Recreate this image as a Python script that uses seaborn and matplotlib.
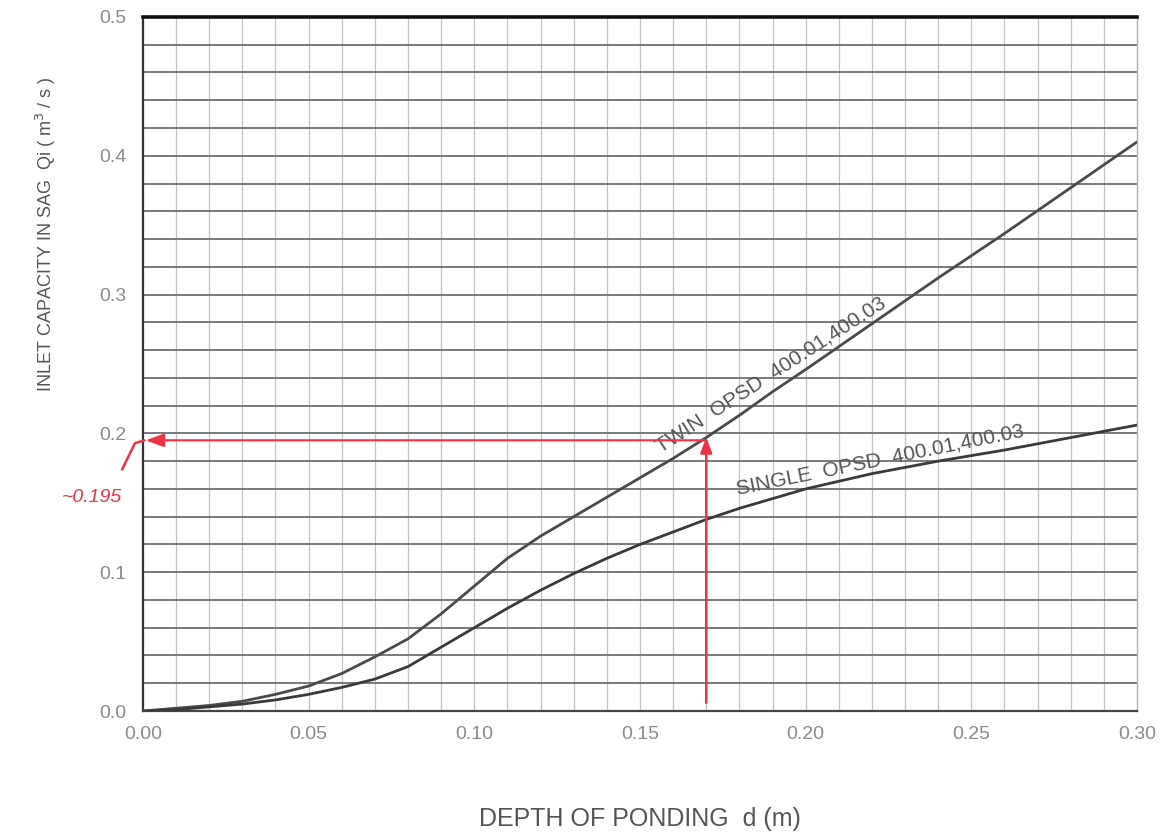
import matplotlib
matplotlib.use("Agg")
import matplotlib.pyplot as plt
import numpy as np
import pandas as pd
import seaborn as sns

# depth of ponding d (m)
depth = [0.00, 0.01, 0.02, 0.03, 0.04, 0.05, 0.06, 0.07, 0.08, 0.09, 0.10,
         0.11, 0.12, 0.13, 0.14, 0.15, 0.16, 0.17, 0.18, 0.19, 0.20,
         0.22, 0.24, 0.26, 0.28, 0.30]
# inlet capacity Qi (m3/s)
twin = [0.000, 0.002, 0.004, 0.007, 0.012, 0.018, 0.027, 0.039, 0.052, 0.070, 0.090,
        0.110, 0.126, 0.140, 0.154, 0.168, 0.182, 0.197, 0.213, 0.230, 0.246,
        0.279, 0.312, 0.344, 0.377, 0.410]
single = [0.000, 0.001, 0.003, 0.005, 0.008, 0.012, 0.017, 0.023, 0.032, 0.046, 0.060,
          0.074, 0.087, 0.099, 0.110, 0.120, 0.129, 0.138, 0.146, 0.153, 0.160,
          0.171, 0.180, 0.188, 0.197, 0.206]

x_ticks = [0.00, 0.05, 0.10, 0.15, 0.20, 0.25, 0.30]
y_ticks = [0.0, 0.1, 0.2, 0.3, 0.4, 0.5]
read_d = 0.17
read_q = 0.195

df = pd.DataFrame({
    "d": depth * 2,
    "q": twin + single,
    "curve": ["twin"] * len(depth) + ["single"] * len(depth),
})

sns.set_style("white")
plt.rcParams["font.family"] = ["Liberation Sans", "DejaVu Sans"]

fig = plt.figure(figsize=(11.62, 8.36), dpi=100)
ax = fig.add_axes([0.123, 0.1495, 0.8555, 0.8302])

# graph paper grid
for xv in np.arange(0.01, 0.30, 0.01):
    ax.axvline(xv, color="#c4c4c4", lw=0.9, zorder=0)
for yv in np.arange(0.02, 0.50, 0.02):
    ax.axhline(yv, color="#707070", lw=1.3, zorder=0)

sns.lineplot(data=df, x="d", y="q", hue="curve", palette={"twin": "#4a4a4a", "single": "#3a3a3a"},
             linewidth=2.0, legend=False, ax=ax, zorder=3)

ax.set_xlim(0, 0.30)
ax.set_ylim(0, 0.5)
ax.set_xticks(x_ticks)
ax.set_xticklabels([f"{v:.2f}" for v in x_ticks])
ax.set_yticks(y_ticks)
ax.set_yticklabels([f"{v:.1f}" for v in y_ticks])
ax.tick_params(axis="y", direction="inout", length=14, width=3, color="#222222",
               labelsize=14, labelcolor="#8a8a8a", pad=5)
ax.tick_params(axis="x", direction="inout", length=10, width=3, color="#222222",
               labelsize=14, labelcolor="#8a8a8a", pad=6)

ax.spines["left"].set_color("#333333")
ax.spines["left"].set_linewidth(1.6)
ax.spines["bottom"].set_color("#444444")
ax.spines["bottom"].set_linewidth(1.6)
ax.spines["top"].set_color("#111111")
ax.spines["top"].set_linewidth(2.6)
ax.spines["right"].set_color("#b0b0b0")
ax.spines["right"].set_linewidth(1.0)

ax.set_xlabel("DEPTH OF PONDING  d (m)", fontsize=18, color="#555555", labelpad=46)
ax.set_ylabel("INLET CAPACITY IN SAG  Qi ( m$^{3}$ / s )", fontsize=13, color="#555555")
ax.yaxis.set_label_coords(-0.085, 0.687)

ax.text(0.1895, 0.242, "TWIN  OPSD  400.01,400.03", rotation=33, fontsize=15, color="#555555",
        ha="center", va="center", zorder=4)
ax.text(0.2225, 0.181, "SINGLE  OPSD  400.01,400.03", rotation=11.5, fontsize=15, color="#555555",
        ha="center", va="center", zorder=4)

# red hand-drawn reading
red = "#ee3344"
ax.annotate("", xy=(0.0008, read_q), xytext=(read_d, read_q),
            arrowprops=dict(arrowstyle="-|>,head_length=1.1,head_width=0.4", color=red, lw=1.6,
                            shrinkA=0, shrinkB=0), zorder=5)
ax.annotate("", xy=(read_d, read_q + 0.002), xytext=(read_d, 0.006),
            arrowprops=dict(arrowstyle="-|>,head_length=0.9,head_width=0.35", color=red, lw=1.8,
                            shrinkA=0, shrinkB=0), zorder=5)
ax.plot([0.0005, -0.0024, -0.0063], [read_q, 0.193, 0.174], color=red, lw=1.8,
        clip_on=False, zorder=5)
ax.text(-0.0155, 0.154, "~0.195", color=red, fontsize=14, fontstyle="italic",
        ha="center", va="center", clip_on=False)

fig.savefig("out.png", dpi=100, facecolor="white")
